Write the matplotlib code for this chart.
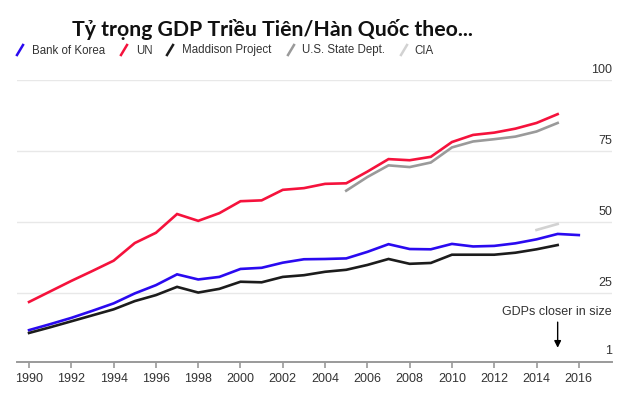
import matplotlib
matplotlib.use("Agg")
import matplotlib.pyplot as plt
from matplotlib.lines import Line2D
import matplotlib.transforms as mtransforms

years_bok = list(range(1990, 2017))
bank_of_korea = [12.1, 14.2, 16.4, 18.9, 21.5, 25.0, 27.9, 31.7, 29.9, 30.8,
                 33.6, 34.0, 35.8, 37.0, 37.1, 37.3, 39.6, 42.3, 40.6, 40.5,
                 42.4, 41.5, 41.7, 42.6, 44.0, 45.9, 45.5]
years_un = list(range(1990, 2016))
un = [22.0, 25.7, 29.4, 32.9, 36.5, 42.7, 46.3, 52.9, 50.5, 53.2,
      57.4, 57.7, 61.4, 62.0, 63.5, 63.7, 67.8, 72.2, 71.8, 73.0,
      78.2, 80.7, 81.5, 82.9, 84.9, 88.0]
years_mad = list(range(1990, 2016))
maddison = [11.1, 13.1, 15.2, 17.3, 19.4, 22.3, 24.4, 27.3, 25.3, 26.6,
            29.1, 28.9, 30.8, 31.4, 32.6, 33.3, 35.0, 37.1, 35.4, 35.7,
            38.6, 38.6, 38.6, 39.3, 40.5, 42.0]
years_state = list(range(2005, 2016))
state_dept = [61.1, 65.9, 70.0, 69.4, 71.0, 76.3, 78.4, 79.2, 80.1, 81.9, 84.9]
years_cia = [2014, 2015]
cia = [47.3, 49.4]

series_names = ["Bank of Korea", "UN", "Maddison Project", "U.S. State Dept.", "CIA"]
colors = ["#2a0af0", "#f5123c", "#1c1c1c", "#9a9a9a", "#d2d2d2"]
ytick_vals = [1, 25, 50, 75, 100]
ytick_labels = ["1", "25", "50", "75", "100"]
xtick_vals = list(range(1990, 2017, 2))

title = "Tỷ trọng GDP Triều Tiên/Hàn Quốc theo..."
note = "GDPs closer in size"

plt.rcParams['font.family'] = ['Liberation Sans', 'DejaVu Sans']

fig = plt.figure(figsize=(6.3, 4.04), dpi=100)
W, H = 630, 404
ax = fig.add_axes([17 / W, (H - 361.7) / H, 595 / W, (361.7 - 80) / H])
ax.set_xlim(1989.43, 2017.57)
ax.set_ylim(1, 100)

for v in ytick_vals[1:]:
    ax.axhline(v, color="#e8e8e8", lw=1.0, zorder=0)

data = [(years_bok, bank_of_korea), (years_un, un), (years_mad, maddison),
        (years_state, state_dept), (years_cia, cia)]
for (xs, ys), c in zip(data, colors):
    ax.plot(xs, ys, color=c, lw=1.9, solid_joinstyle="miter", zorder=3)

for s in ["top", "right", "left"]:
    ax.spines[s].set_visible(False)
ax.spines["bottom"].set_color("#9a9a9a")
ax.spines["bottom"].set_linewidth(1.4)
ax.set_yticks([])
ax.set_xticks(xtick_vals)
ax.set_xticklabels([str(x) for x in xtick_vals], fontsize=9, color="#333333")
ax.tick_params(axis="x", length=4, width=1.2, color="#9a9a9a", pad=4)

trans = mtransforms.blended_transform_factory(ax.transAxes, ax.transData)
for v, lab in zip(ytick_vals, ytick_labels):
    ax.annotate(lab, xy=(1.0, v), xycoords=trans, xytext=(0, 7.5),
                textcoords="offset points", ha="right", va="center",
                fontsize=9, color="#333333")

# annotation arrow
ax.annotate(note, xy=(1.0, 1), xycoords=trans, xytext=(0, 36),
            textcoords="offset points", ha="right", va="center",
            fontsize=9, color="#333333")
ax.annotate("", xy=(2015, 5.9), xytext=(2015, 14.9),
            arrowprops=dict(arrowstyle="-|>", color="black", lw=1.0,
                            mutation_scale=10, shrinkA=0, shrinkB=0))

# title
fig.text(72 / W, 1 - 29 / H, title, fontsize=15.3, fontweight="bold",
         family=['Lato', 'DejaVu Sans'], ha="left", va="center", color="#111111")

# legend
leg_y = 1 - 50.5 / H
marker_x = [17, 121, 167, 288, 401]
text_x = [32, 136, 182, 302, 414]
for name, c, mx, tx in zip(series_names, colors, marker_x, text_x):
    fig.add_artist(Line2D([mx / W, (mx + 6) / W], [1 - 55 / H, 1 - 45 / H],
                          color=c, lw=1.8, transform=fig.transFigure))
    fig.text(tx / W, leg_y, name, fontsize=8.3, color="#333333",
             ha="left", va="center")

fig.savefig("out.png", dpi=100)
